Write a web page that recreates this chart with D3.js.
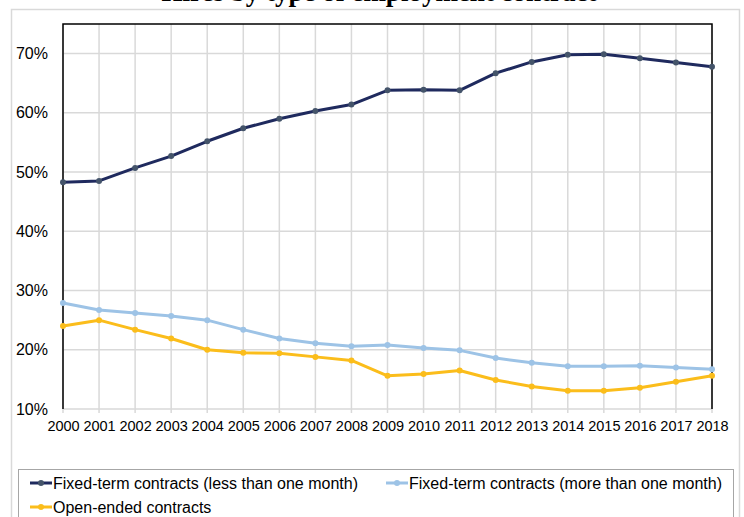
<!DOCTYPE html>
<html>
<head>
<meta charset="utf-8">
<script src="https://cdn.jsdelivr.net/npm/d3@7"></script>
<style>
  html, body { margin: 0; padding: 0; background: #fff; }
  svg { display: block; }
  text { font-family: "Liberation Sans", Arial, sans-serif; fill: #000; }
</style>
</head>
<body>
<svg id="chart" width="744" height="517"></svg>
<script>
// Hires by year and type of employment contract (share of all hires, %)
const years = [2000, 2001, 2002, 2003, 2004, 2005, 2006, 2007, 2008, 2009,
               2010, 2011, 2012, 2013, 2014, 2015, 2016, 2017, 2018];
const shortFixed = [48.3, 48.5, 50.7, 52.7, 55.2, 57.4, 59.0, 60.3, 61.4, 63.8,
                    63.9, 63.8, 66.7, 68.6, 69.8, 69.9, 69.2, 68.5, 67.8];
const longFixed = [27.9, 26.7, 26.2, 25.7, 25.0, 23.4, 21.9, 21.1, 20.6, 20.8,
                   20.3, 19.9, 18.6, 17.8, 17.2, 17.2, 17.3, 17.0, 16.7];
const openEnded = [24.0, 25.0, 23.4, 21.9, 20.0, 19.5, 19.4, 18.8, 18.2, 15.6,
                   15.9, 16.5, 14.9, 13.8, 13.1, 13.1, 13.6, 14.6, 15.6];
const yTicks = [10, 20, 30, 40, 50, 60, 70];
const seriesNames = ["Fixed-term contracts (less than one month)",
                     "Fixed-term contracts (more than one month)",
                     "Open-ended contracts"];
const title = "Hires by type of employment contract";

const series = [
  { name: seriesNames[0], values: shortFixed, line: "#1f2a5e", dot: "#44546a" },
  { name: seriesNames[1], values: longFixed, line: "#9dc3e6", dot: "#9dc3e6" },
  { name: seriesNames[2], values: openEnded, line: "#fbbd1b", dot: "#fbbd1b" }
];

const svg = d3.select("#chart");
const plot = { left: 63, right: 712, top: 24, bottom: 409 };

const x = d3.scalePoint().domain(years).range([plot.left, plot.right]);
const y = d3.scaleLinear().domain([10, 75]).range([plot.bottom, plot.top]);

// Outer chart frame
svg.append("rect")
  .attr("x", 11.5).attr("y", 9.5)
  .attr("width", 728).attr("height", 520)
  .attr("fill", "#fff").attr("stroke", "#d9d9d9").attr("stroke-width", 1.5);

// Title (bold serif, centred over the chart; sits above the frame)
svg.append("text")
  .attr("x", 379).attr("y", 1)
  .attr("text-anchor", "middle")
  .style("font-family", "'Liberation Serif', 'Times New Roman', serif")
  .style("font-weight", "bold")
  .style("font-size", "27px")
  .text(title);

// Gridlines
const grid = svg.append("g").attr("stroke", "#d9d9d9").attr("stroke-width", 1.5);
grid.selectAll("line.h").data(yTicks).join("line")
  .attr("x1", plot.left).attr("x2", plot.right)
  .attr("y1", d => y(d)).attr("y2", d => y(d));
grid.selectAll("line.v").data(years).join("line")
  .attr("x1", d => x(d)).attr("x2", d => x(d))
  .attr("y1", plot.top).attr("y2", plot.bottom + 4);

// Plot border: top and right edges, left value axis
svg.append("path")
  .attr("d", `M${plot.left},${plot.bottom}V${plot.top}H${plot.right}V${plot.bottom}`)
  .attr("fill", "none").attr("stroke", "#000").attr("stroke-width", 1.5);

// Y axis labels
const yAxis = d3.axisLeft(y).tickValues(yTicks).tickSize(0).tickPadding(15)
  .tickFormat(d => d + "%");
svg.append("g").attr("transform", `translate(${plot.left},0)`).call(yAxis)
  .call(g => g.select(".domain").remove())
  .selectAll("text")
  .style("font-family", "'Liberation Sans', Arial, sans-serif")
  .style("font-size", "16px").attr("fill", "#000");

// X axis labels
const xAxis = d3.axisBottom(x).tickSize(0).tickPadding(12);
svg.append("g").attr("transform", `translate(0,${plot.bottom})`).call(xAxis)
  .call(g => g.select(".domain").remove())
  .selectAll("text")
  .style("font-family", "'Liberation Sans', Arial, sans-serif")
  .style("font-size", "14.5px").attr("fill", "#000");

// Lines and markers
const line = d3.line().x((d, i) => x(years[i])).y(d => y(d));
series.forEach(s => {
  const g = svg.append("g");
  g.append("path").datum(s.values)
    .attr("d", line)
    .attr("fill", "none").attr("stroke", s.line)
    .attr("stroke-width", 3).attr("stroke-linejoin", "round");
  g.selectAll("circle").data(s.values).join("circle")
    .attr("cx", (d, i) => x(years[i])).attr("cy", d => y(d))
    .attr("r", 3).attr("fill", s.dot);
});

// Legend
const legend = svg.append("g");
legend.append("rect")
  .attr("x", 18.5).attr("y", 469.5).attr("width", 715).attr("height", 60)
  .attr("fill", "#fff").attr("stroke", "#a6a6a6").attr("stroke-width", 1);
const legendPos = [[30, 483], [386, 483], [30, 507]];
series.forEach((s, i) => {
  const [lx, ly] = legendPos[i];
  const item = legend.append("g").attr("transform", `translate(${lx},${ly})`);
  item.append("line").attr("x1", 0).attr("x2", 22).attr("y1", 0).attr("y2", 0)
    .attr("stroke", s.line).attr("stroke-width", 3);
  item.append("circle").attr("cx", 11).attr("cy", 0).attr("r", 3).attr("fill", s.dot);
  item.append("text").attr("x", 23).attr("y", 0).attr("dy", "0.35em")
    .style("font-size", "16px")
    .text(s.name);
});
</script>
</body>
</html>
